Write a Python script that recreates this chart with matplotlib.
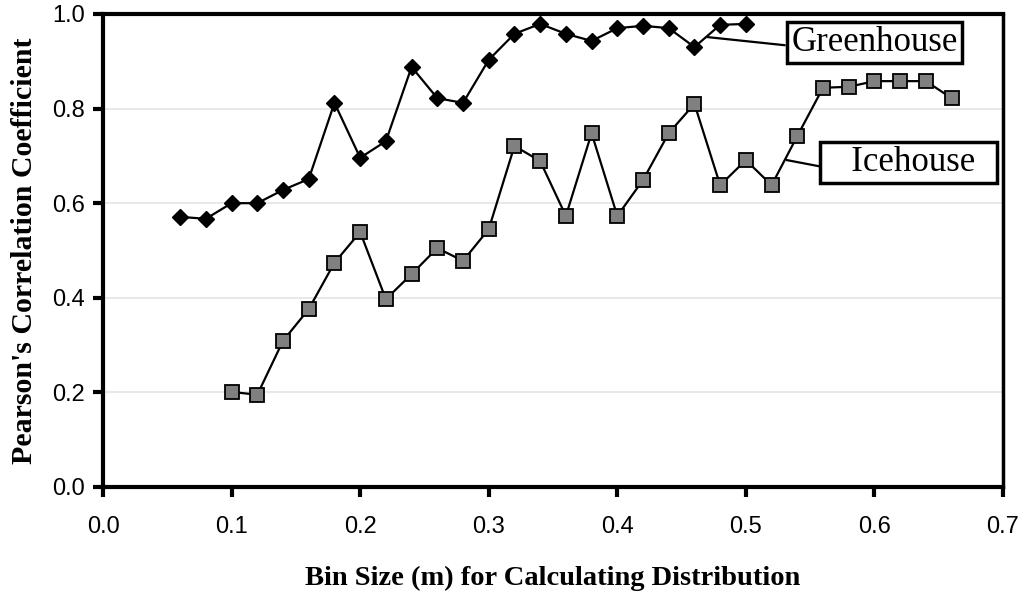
import numpy as np
import matplotlib
matplotlib.use("Agg")
import matplotlib.pyplot as plt

# data
green_x = [0.06, 0.08, 0.10, 0.12, 0.14, 0.16, 0.18, 0.20, 0.22, 0.24, 0.26, 0.28,
           0.30, 0.32, 0.34, 0.36, 0.38, 0.40, 0.42, 0.44, 0.46, 0.48, 0.50]
green_y = [0.571, 0.567, 0.600, 0.600, 0.628, 0.651, 0.812, 0.696, 0.731, 0.888, 0.822, 0.812,
           0.903, 0.958, 0.979, 0.958, 0.943, 0.970, 0.975, 0.970, 0.930, 0.977, 0.979]

ice_x = [0.10, 0.12, 0.14, 0.16, 0.18, 0.20, 0.22, 0.24, 0.26, 0.28, 0.30, 0.32, 0.34, 0.36,
         0.38, 0.40, 0.42, 0.44, 0.46, 0.48, 0.50, 0.52, 0.54, 0.56, 0.58, 0.60, 0.62, 0.64, 0.66]
ice_y = [0.201, 0.195, 0.309, 0.376, 0.474, 0.539, 0.397, 0.450, 0.505, 0.478, 0.545, 0.721,
         0.689, 0.573, 0.748, 0.573, 0.649, 0.748, 0.810, 0.638, 0.691, 0.638, 0.742, 0.844,
         0.846, 0.858, 0.858, 0.858, 0.822]

x_ticks = [0.0, 0.1, 0.2, 0.3, 0.4, 0.5, 0.6, 0.7]
y_ticks = [0.0, 0.2, 0.4, 0.6, 0.8, 1.0]

fig = plt.figure(figsize=(10.21, 5.92), dpi=100)
ax = fig.add_axes([0.1009, 0.1774, 0.8815, 0.799])

# light horizontal grid
for yv in y_ticks[1:-1]:
    ax.axhline(yv, color="#e4e4e4", lw=1.2, zorder=0)

ax.plot(green_x, green_y, color="black", lw=1.6, marker="D", ms=8.5,
        mfc="black", mec="black", zorder=3)
ax.plot(ice_x, ice_y, color="black", lw=1.6, marker="s", ms=9.5,
        mfc="#808080", mec="black", mew=1.3, zorder=3)

ax.set_xlim(0, 0.7)
ax.set_ylim(0, 1.0)
ax.set_xticks(x_ticks)
ax.set_yticks(y_ticks)
ax.set_xticklabels([f"{v:.1f}" for v in x_ticks], fontfamily="Liberation Sans", fontsize=17)
ax.set_yticklabels([f"{v:.1f}" for v in y_ticks], fontfamily="Liberation Sans", fontsize=17)
ax.tick_params(direction="out", length=7, width=3, pad=6)
ax.tick_params(axis="x", pad=14)

for side in ["left", "bottom", "top"]:
    ax.spines[side].set_linewidth(3)
ax.spines["right"].set_linewidth(2.5)

ax.set_xlabel("Bin Size (m) for Calculating Distribution", fontfamily="Liberation Serif",
              fontweight="bold", fontsize=20.5, labelpad=20)
ax.set_ylabel("Pearson's Correlation Coefficient", fontfamily="Liberation Serif",
              fontweight="bold", fontsize=21.5, labelpad=10)

# boxed series labels with leader lines
ax.plot([0.4705, 0.530], [0.951, 0.934], color="black", lw=1.6, zorder=2)
ax.plot([0.532, 0.559], [0.691, 0.677], color="black", lw=1.6, zorder=2)

ax.text(0.600, 0.940, "Greenhouse", fontfamily="Liberation Serif", fontsize=25,
        ha="center", va="center", zorder=4,
        bbox=dict(boxstyle="square,pad=0.12", fc="white", ec="black", lw=2.5))
ax.text(0.6265, 0.686, "   Icehouse  ", fontfamily="Liberation Serif", fontsize=25,
        ha="center", va="center", zorder=4,
        bbox=dict(boxstyle="square,pad=0.12", fc="white", ec="black", lw=2.5))

fig.savefig("out.png", dpi=100)
